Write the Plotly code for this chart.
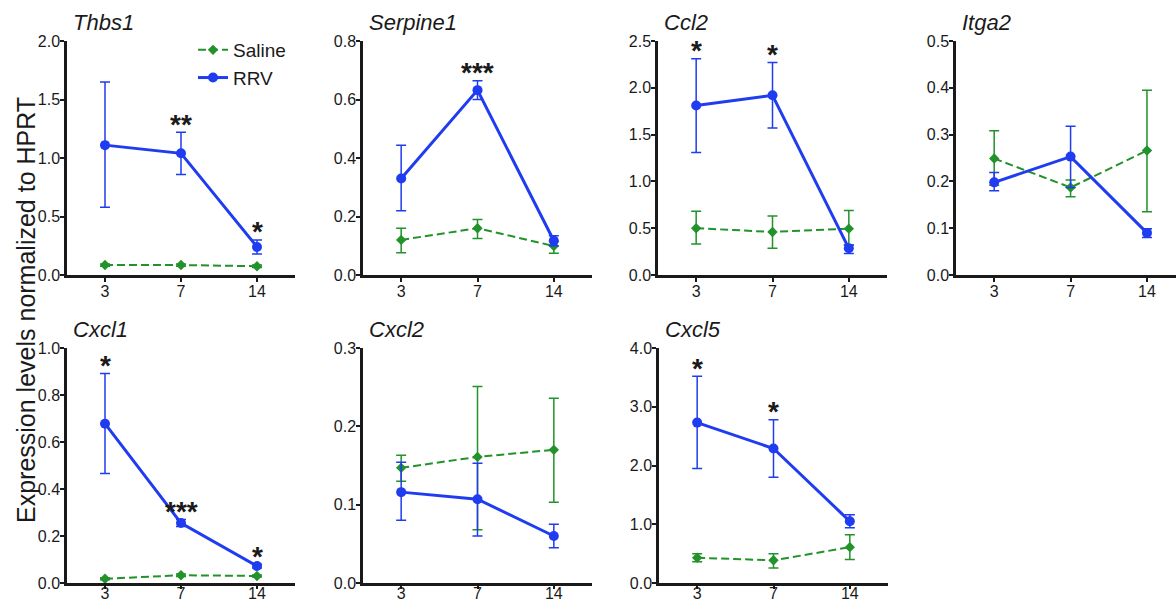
import plotly.graph_objects as go

# ---------------- data ----------------
days = ["3", "7", "14"]
genes = ["Thbs1", "Serpine1", "Ccl2", "Itga2", "Cxcl1", "Cxcl2", "Cxcl5"]

# RRV: mean, upper bound of error bar, lower bound of error bar
rrv_thbs1 = [1.11, 1.04, 0.24]
rrv_thbs1_hi = [1.65, 1.22, 0.30]
rrv_thbs1_lo = [0.58, 0.86, 0.18]
sal_thbs1 = [0.085, 0.085, 0.075]
sal_thbs1_hi = [0.095, 0.095, 0.085]
sal_thbs1_lo = [0.075, 0.075, 0.065]

rrv_serpine1 = [0.33, 0.632, 0.117]
rrv_serpine1_hi = [0.444, 0.664, 0.134]
rrv_serpine1_lo = [0.22, 0.60, 0.10]
sal_serpine1 = [0.12, 0.16, 0.099]
sal_serpine1_hi = [0.16, 0.19, 0.115]
sal_serpine1_lo = [0.076, 0.125, 0.074]

rrv_ccl2 = [1.81, 1.92, 0.285]
rrv_ccl2_hi = [2.31, 2.27, 0.32]
rrv_ccl2_lo = [1.31, 1.57, 0.23]
sal_ccl2 = [0.50, 0.46, 0.495]
sal_ccl2_hi = [0.68, 0.63, 0.69]
sal_ccl2_lo = [0.33, 0.285, 0.32]

rrv_itga2 = [0.198, 0.253, 0.090]
rrv_itga2_hi = [0.219, 0.318, 0.099]
rrv_itga2_lo = [0.180, 0.187, 0.080]
sal_itga2 = [0.249, 0.187, 0.266]
sal_itga2_hi = [0.308, 0.203, 0.395]
sal_itga2_lo = [0.192, 0.167, 0.135]

rrv_cxcl1 = [0.678, 0.255, 0.072]
rrv_cxcl1_hi = [0.891, 0.270, 0.080]
rrv_cxcl1_lo = [0.466, 0.240, 0.064]
sal_cxcl1 = [0.018, 0.033, 0.030]
sal_cxcl1_hi = [0.022, 0.038, 0.034]
sal_cxcl1_lo = [0.014, 0.028, 0.026]

rrv_cxcl2 = [0.116, 0.107, 0.060]
rrv_cxcl2_hi = [0.154, 0.153, 0.075]
rrv_cxcl2_lo = [0.080, 0.060, 0.045]
sal_cxcl2 = [0.147, 0.161, 0.170]
sal_cxcl2_hi = [0.163, 0.251, 0.236]
sal_cxcl2_lo = [0.130, 0.068, 0.103]

rrv_cxcl5 = [2.73, 2.29, 1.05]
rrv_cxcl5_hi = [3.52, 2.78, 1.16]
rrv_cxcl5_lo = [1.95, 1.80, 0.94]
sal_cxcl5 = [0.43, 0.386, 0.61]
sal_cxcl5_hi = [0.50, 0.50, 0.82]
sal_cxcl5_lo = [0.36, 0.255, 0.40]

y_max = [2.0, 0.8, 2.5, 0.5, 1.0, 0.3, 4.0]
y_dtick = [0.5, 0.2, 0.5, 0.1, 0.2, 0.1, 1.0]

# significance marks: (gene index, day, text)
stars = [
    (0, "7", "**"), (0, "14", "*"),
    (1, "7", "***"),
    (2, "3", "*"), (2, "7", "*"),
    (4, "3", "*"), (4, "7", "***"), (4, "14", "*"),
    (6, "3", "*"), (6, "7", "*"),
]

rrv = [
    (rrv_thbs1, rrv_thbs1_hi, rrv_thbs1_lo),
    (rrv_serpine1, rrv_serpine1_hi, rrv_serpine1_lo),
    (rrv_ccl2, rrv_ccl2_hi, rrv_ccl2_lo),
    (rrv_itga2, rrv_itga2_hi, rrv_itga2_lo),
    (rrv_cxcl1, rrv_cxcl1_hi, rrv_cxcl1_lo),
    (rrv_cxcl2, rrv_cxcl2_hi, rrv_cxcl2_lo),
    (rrv_cxcl5, rrv_cxcl5_hi, rrv_cxcl5_lo),
]
sal = [
    (sal_thbs1, sal_thbs1_hi, sal_thbs1_lo),
    (sal_serpine1, sal_serpine1_hi, sal_serpine1_lo),
    (sal_ccl2, sal_ccl2_hi, sal_ccl2_lo),
    (sal_itga2, sal_itga2_hi, sal_itga2_lo),
    (sal_cxcl1, sal_cxcl1_hi, sal_cxcl1_lo),
    (sal_cxcl2, sal_cxcl2_hi, sal_cxcl2_lo),
    (sal_cxcl5, sal_cxcl5_hi, sal_cxcl5_lo),
]

# ---------------- layout geometry ----------------
W, H = 1176, 603
BLUE = "#1f3cf0"
GREEN = "#22922a"
INK = "#1a1a1a"
FONT = "Liberation Sans, Arial, sans-serif"

# pixel boxes: (left, right, top, bottom)
boxes = [
    (67, 295, 41, 275),
    (363, 592, 41, 275),
    (658, 887, 41, 275),
    (956, 1176, 41, 275),
    (67, 295, 348, 583),
    (363, 592, 348, 583),
    (659, 888, 348, 583),
]
x_ranges = [[-0.5, 2.5]] * 3 + [[-0.5, 2.38]] + [[-0.5, 2.5]] * 3
x_ticklen = [4, 4, 4, 4, 3, 3, 3]
x_standoff = [-4, -4, -4, -4, -9, -9, -9]

fig = go.Figure()
layout = dict(
    template="none",
    width=W, height=H,
    margin=dict(l=0, r=0, t=0, b=0, pad=0, autoexpand=False),
    paper_bgcolor="white", plot_bgcolor="white",
    font=dict(family=FONT, color=INK, size=16),
    showlegend=True,
    legend=dict(
        x=193 / W, y=1 - 31 / H, xanchor="left", yanchor="top",
        font=dict(size=19, color=INK), bgcolor="rgba(0,0,0,0)",
        tracegroupgap=0, itemwidth=30, borderwidth=0,
    ),
)
annotations = []

for i, g in enumerate(genes):
    n = "" if i == 0 else str(i + 1)
    xa, ya = "x" + n, "y" + n
    l, r, t, b = boxes[i]
    layout["xaxis" + n] = dict(
        domain=[l / W, r / W], anchor=ya, type="category",
        range=x_ranges[i], showline=True, linecolor=INK, linewidth=2.5,
        ticks="outside", ticklen=x_ticklen[i], tickwidth=2, tickcolor=INK,
        ticklabelstandoff=x_standoff[i], automargin=False,
        showgrid=False, zeroline=False, fixedrange=True,
        tickfont=dict(size=16, color=INK),
    )
    layout["yaxis" + n] = dict(
        domain=[1 - b / H, 1 - t / H], anchor=xa,
        range=[0, y_max[i]], dtick=y_dtick[i], tick0=0, tickformat=".1f",
        showline=True, linecolor=INK, linewidth=2.5,
        ticks="outside", ticklen=4, tickwidth=2, tickcolor=INK,
        ticklabelstandoff=-3, automargin=False,
        showgrid=False, zeroline=False, fixedrange=True,
        tickfont=dict(size=16, color=INK),
    )
    s_m, s_hi, s_lo = sal[i]
    r_m, r_hi, r_lo = rrv[i]
    fig.add_trace(go.Scatter(
        x=days, y=s_m, xaxis=xa, yaxis=ya, mode="lines+markers",
        name="Saline", legendgroup="Saline", showlegend=(i == 0),
        line=dict(color=GREEN, width=2, dash="8px,4px"),
        marker=dict(symbol="diamond", size=8, color=GREEN),
        error_y=dict(type="data", symmetric=False,
                     array=[h - m for h, m in zip(s_hi, s_m)],
                     arrayminus=[m - lo for m, lo in zip(s_m, s_lo)],
                     color=GREEN, thickness=1.5, width=5),
        cliponaxis=False,
    ))
    fig.add_trace(go.Scatter(
        x=days, y=r_m, xaxis=xa, yaxis=ya, mode="lines+markers",
        name="RRV", legendgroup="RRV", showlegend=(i == 0),
        line=dict(color=BLUE, width=3),
        marker=dict(symbol="circle", size=10, color=BLUE),
        error_y=dict(type="data", symmetric=False,
                     array=[h - m for h, m in zip(r_hi, r_m)],
                     arrayminus=[m - lo for m, lo in zip(r_m, r_lo)],
                     color=BLUE, thickness=1.5, width=5),
        cliponaxis=False,
    ))
    annotations.append(dict(
        text="<i>" + g + "</i>", xref=xa + " domain", yref="paper",
        x=0, xshift=4, xanchor="left", y=1 - (t - 19) / H, yanchor="middle",
        showarrow=False, font=dict(size=22, color=INK),
    ))

for gi, d, txt in stars:
    n = "" if gi == 0 else str(gi + 1)
    k = days.index(d)
    hi = rrv[gi][1][k]
    annotations.append(dict(
        text="<b>" + txt + "</b>", xref="x" + n, yref="y" + n, x=k, y=hi,
        xanchor="center", yanchor="middle", yshift=8,
        showarrow=False, font=dict(size=28, color=INK),
    ))

annotations.append(dict(
    text="Expression levels normalized to HPRT", xref="paper", yref="paper",
    x=26 / W, y=1 - 310 / H, xanchor="center", yanchor="middle",
    textangle=-90, showarrow=False, font=dict(size=25, color=INK),
))

layout["annotations"] = annotations
fig.update_layout(**layout)
fig.write_html("out.html",
               config={"displayModeBar": False},
               post_script="document.body.style.margin='0px';")
